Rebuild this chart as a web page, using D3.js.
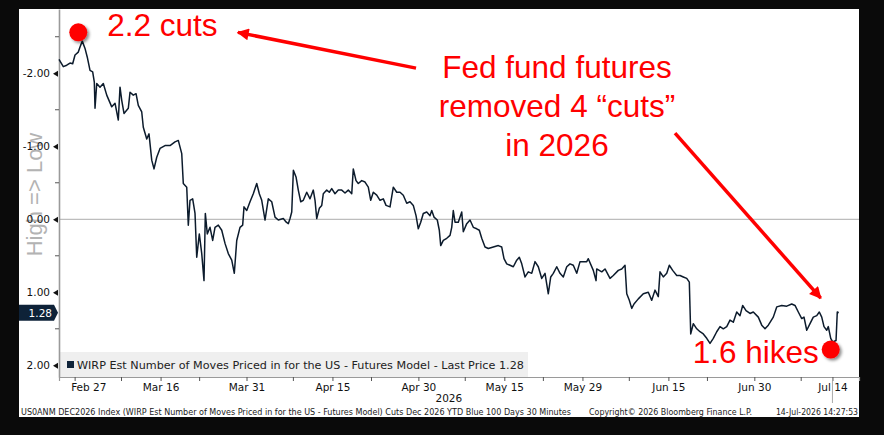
<!DOCTYPE html>
<html>
<head>
<meta charset="utf-8">
<title>WIRP Est Number of Moves</title>
<script src="https://cdn.jsdelivr.net/npm/d3@7"></script>
<style>
  body { margin: 0; background: #0a0a0a; }
  svg { display: block; }
</style>
</head>
<body>
<script>
// size of the picture
const w = 884;
const h = 435;

// trading days since Wed 25 Feb 2026 (fractional, 30 min bars)
const days = [
  0.00, 0.55, 0.99, 1.41, 1.75, 2.05, 2.47, 2.69, 2.98, 3.33,
  3.62, 3.97, 4.31, 4.52, 4.61, 4.83, 5.25, 5.67, 6.11, 6.75,
  7.17, 7.59, 7.81, 8.03, 8.32, 8.87, 9.09, 9.51, 9.86, 10.15,
  10.59, 10.79, 11.23, 11.52, 11.87, 12.16, 12.51, 12.93, 13.57, 14.21,
  14.85, 15.27, 15.71, 15.91, 16.35, 16.55, 16.77, 17.11, 17.41, 17.63,
  17.96, 18.27, 18.56, 18.73, 18.98, 19.33, 19.67, 19.97, 20.39, 20.83,
  21.25, 21.67, 22.11, 22.44, 22.75, 23.17, 23.51, 23.68, 24.03, 24.45,
  24.87, 25.31, 25.64, 25.95, 26.37, 26.79, 27.23, 27.65, 28.07, 28.71,
  29.09, 29.35, 29.57, 29.79, 30.00, 30.34, 30.63, 30.94, 31.27, 31.71,
  32.13, 32.55, 32.77, 32.99, 33.32, 33.63, 33.83, 34.27, 34.60, 34.91,
  35.33, 35.75, 36.19, 36.61, 37.03, 37.47, 37.67, 38.02, 38.31, 38.75,
  39.17, 39.59, 39.90, 40.23, 40.67, 41.09, 41.51, 41.86, 42.37, 42.79,
  43.23, 43.65, 44.07, 44.51, 44.93, 45.35, 45.70, 45.99, 46.30, 46.63,
  47.07, 47.49, 47.71, 48.00, 48.42, 48.68, 48.86, 49.19, 49.63, 50.05,
  50.27, 50.47, 50.69, 51.11, 51.55, 51.75, 52.19, 52.61, 53.03, 53.47,
  53.80, 54.11, 54.53, 54.95, 55.59, 56.23, 56.67, 56.96, 57.31, 57.73,
  58.15, 58.59, 58.92, 59.23, 59.65, 60.07, 60.51, 60.93, 61.35, 61.79,
  62.21, 62.63, 62.94, 63.27, 63.71, 64.13, 64.55, 64.99, 65.41, 65.83,
  66.27, 66.69, 67.55, 67.75, 68.39, 68.74, 68.83, 69.47, 69.89, 70.53,
  70.95, 71.59, 72.03, 72.45, 72.67, 73.00, 73.31, 73.60, 74.15, 74.79,
  75.43, 75.87, 76.29, 76.71, 76.93, 77.35, 77.79, 78.12, 78.55, 79.07,
  79.49, 79.91, 80.35, 80.68, 80.86, 81.19, 81.63, 82.05, 82.47, 82.91,
  83.33, 83.75, 84.19, 84.61, 85.03, 85.47, 85.89, 86.31, 86.75, 87.17,
  87.51, 87.94, 88.45, 88.87, 89.51, 89.95, 90.37, 90.79, 91.43, 91.87,
  92.51, 93.15, 93.79, 94.21, 94.63, 95.07, 95.36, 95.71, 96.13, 96.55,
  96.99, 97.32, 97.63, 97.92, 98.27, 98.47, 98.78, 99.03, 99.46, 99.62,
  99.80
];

// number of moves priced (negative = cuts)
const moves = [
  -2.19, -2.09, -2.11, -2.14, -2.13, -2.25, -2.29, -2.36, -2.44, -2.34,
  -2.22, -2.04, -2.02, -1.88, -1.52, -1.86, -1.81, -1.86, -1.70, -1.54,
  -1.59, -1.36, -1.81, -1.63, -1.45, -1.52, -1.74, -1.70, -1.72, -1.56,
  -1.47, -1.26, -1.10, -1.17, -0.81, -0.69, -0.85, -0.97, -1.01, -1.01,
  -1.06, -1.08, -0.90, -0.49, -0.44, 0.08, -0.26, -0.28, -0.08, 0.52,
  0.20, 0.47, 0.84, -0.08, 0.20, 0.11, 0.29, 0.11, 0.08, 0.15,
  0.33, 0.47, 0.56, 0.74, 0.29, 0.11, 0.08, -0.17, -0.12, -0.24,
  -0.35, -0.49, -0.35, -0.26, 0.01, -0.28, -0.24, -0.03, 0.01, -0.01,
  0.04, 0.06, -0.01, -0.10, -0.67, -0.58, -0.40, -0.24, -0.26, -0.37,
  -0.28, -0.40, -0.26, -0.01, -0.15, -0.19, -0.35, -0.40, -0.37, -0.42,
  -0.35, -0.40, -0.40, -0.36, -0.40, -0.35, -0.69, -0.53, -0.49, -0.53,
  -0.51, -0.44, -0.26, -0.37, -0.33, -0.26, -0.28, -0.19, -0.17, -0.44,
  -0.37, -0.37, -0.33, -0.22, -0.24, -0.19, -0.05, 0.13, 0.04, -0.08,
  -0.10, -0.05, -0.12, -0.03, 0.01, 0.15, 0.36, 0.29, 0.26, 0.22,
  0.11, -0.12, 0.04, 0.04, -0.10, 0.17, 0.06, 0.01, 0.11, 0.13,
  0.15, 0.26, 0.38, 0.40, 0.38, 0.36, 0.38, 0.54, 0.61, 0.63,
  0.65, 0.56, 0.52, 0.61, 0.79, 0.72, 0.74, 0.58, 0.65, 0.81,
  0.74, 1.02, 0.79, 0.74, 0.65, 0.74, 0.79, 0.65, 0.61, 0.63,
  0.74, 0.58, 0.58, 0.54, 0.70, 0.84, 0.68, 0.72, 0.68, 0.81,
  0.77, 0.70, 0.68, 0.63, 1.02, 1.11, 1.22, 1.16, 1.09, 1.02,
  1.00, 1.11, 0.97, 1.06, 0.72, 0.79, 0.74, 0.63, 0.70, 0.77,
  0.77, 0.79, 0.81, 0.86, 1.57, 1.43, 1.50, 1.54, 1.57, 1.63,
  1.70, 1.63, 1.54, 1.47, 1.50, 1.47, 1.38, 1.41, 1.27, 1.32,
  1.18, 1.25, 1.29, 1.27, 1.34, 1.45, 1.50, 1.45, 1.34, 1.20,
  1.18, 1.19, 1.16, 1.18, 1.27, 1.36, 1.34, 1.52, 1.43, 1.34,
  1.32, 1.27, 1.34, 1.47, 1.52, 1.47, 1.63, 1.68, 1.66, 1.27,
  1.28
];

// axis ticks
const xTickDates = ["2026-02-27", "2026-03-16", "2026-03-31", "2026-04-15", "2026-04-30",
  "2026-05-15", "2026-05-29", "2026-06-15", "2026-06-30", "2026-07-14"];
const xTickLabels = ["Feb 27", "Mar 16", "Mar 31", "Apr 15", "Apr 30",
  "May 15", "May 29", "Jun 15", "Jun 30", "Jul 14"];
const xMinorDates = ["2026-03-09", "2026-03-23", "2026-04-08", "2026-04-22", "2026-05-08",
  "2026-05-22", "2026-06-08", "2026-06-22", "2026-07-08"];
const yMajor = [-2, -1, 0, 1, 2];
const yMinor = [-2.5, -1.5, -0.5, 0.5, 1.5];
const lastPrice = 1.28;

// annotations: [day, value]
const startDot = [2.47, -2.56];
const endDot = [98.78, 1.785];
const arrowLeft = [[45.7, -2.07], [22.9, -2.56]];
const arrowRight = [[78.85, -1.18], [97.5, 1.08]];

const legendText = "WIRP Est Number of Moves Priced in for the US - Futures Model - Last Price 1.28";
const footerLeft = "US0ANM DEC2026 Index (WIRP Est Number of Moves Priced in for the US - Futures Model) Cuts Dec 2026 YTD Blue 100 Days 30 Minutes";
const footerMid = "Copyright\u00a9 2026 Bloomberg Finance L.P.";
const footerRight = "14-Jul-2026 14:27:53";

// trading day count from the first bar
const startDay = new Date(2026, 1, 25);
const parse = d3.timeParse("%Y-%m-%d");
function bizIndex(s) {
  return d3.timeDay.range(startDay, parse(s))
    .filter(d => d.getDay() !== 0 && d.getDay() !== 6).length;
}

const plot = { left: 59, right: 859, top: 9, bottom: 377 };

const x = d3.scaleLinear().domain([0, 102.4]).range([plot.left, plot.right]);
const y = d3.scaleLinear().domain([-2.88, 2.16]).range([plot.top, plot.bottom]);

const svg = d3.select("body").append("svg")
  .attr("width", w)
  .attr("height", h)
  .style("font-family", "'DejaVu Sans', Verdana, sans-serif");

const defs = svg.append("defs");
defs.append("filter").attr("id", "shadow")
  .attr("x", "-50%").attr("y", "-50%").attr("width", "200%").attr("height", "200%")
  .append("feDropShadow")
  .attr("dx", 2).attr("dy", 2).attr("stdDeviation", 1.6)
  .attr("flood-color", "#000").attr("flood-opacity", 0.45);
defs.append("marker").attr("id", "head")
  .attr("viewBox", "0 0 10 10")
  .attr("refX", 9).attr("refY", 5)
  .attr("markerWidth", 17).attr("markerHeight", 12)
  .attr("markerUnits", "userSpaceOnUse")
  .attr("orient", "auto")
  .append("path").attr("d", "M0,0 L10,5 L0,10 Z").attr("fill", "#f00");

// white panel
svg.append("rect")
  .attr("x", 19).attr("y", 9)
  .attr("width", 840).attr("height", 408)
  .attr("fill", "#fff");

// y title
svg.append("text")
  .attr("transform", `translate(42,${(plot.top + plot.bottom) / 2 + 1.5}) rotate(-90)`)
  .attr("text-anchor", "middle")
  .attr("font-family", "'Liberation Sans', Arial, sans-serif")
  .attr("font-size", 22)
  .attr("fill", "#b3b3b3")
  .text("High => Low");

// zero line
svg.append("line")
  .attr("x1", plot.left).attr("x2", plot.right)
  .attr("y1", y(0)).attr("y2", y(0))
  .attr("stroke", "#bdbdbd").attr("stroke-width", 1.2);

// legend box
svg.append("rect")
  .attr("x", 60).attr("y", 352)
  .attr("width", 468).attr("height", plot.bottom - 352)
  .attr("fill", "#efefef");
svg.append("rect")
  .attr("x", 67).attr("y", 361)
  .attr("width", 7).attr("height", 7)
  .attr("fill", "#10243a");
svg.append("text")
  .attr("x", 77).attr("y", 368.5)
  .attr("font-size", 11.2)
  .attr("fill", "#222")
  .text(legendText);

// y axis
const yAxis = d3.axisLeft(y)
  .tickValues(yMajor)
  .tickSize(0)
  .tickPadding(9)
  .tickFormat(d => d.toFixed(2));
const gy = svg.append("g")
  .attr("transform", `translate(${plot.left},0)`)
  .call(yAxis);
gy.select(".domain").attr("stroke", "#9a9a9a").attr("stroke-width", 1.6);
gy.selectAll(".tick text")
  .attr("font-family", "'DejaVu Sans', Verdana, sans-serif")
  .attr("font-size", 10.5)
  .attr("fill", "#111");
gy.selectAll(".tick").append("path")
  .attr("d", "M-6,0 L-1,-3 L-1,3 Z")
  .attr("fill", "#111");
gy.selectAll(".minor")
  .data(yMinor)
  .enter()
  .append("line")
  .attr("x1", -4).attr("x2", 0)
  .attr("y1", d => y(d)).attr("y2", d => y(d))
  .attr("stroke", "#555");

// last price badge
const yl = y(lastPrice);
svg.append("path")
  .attr("d", `M19,${yl - 8} L54,${yl - 8} L58,${yl} L54,${yl + 8} L19,${yl + 8} Z`)
  .attr("fill", "#0e2238");
svg.append("text")
  .attr("x", 52).attr("y", yl + 4)
  .attr("text-anchor", "end")
  .attr("font-size", 10.5)
  .attr("fill", "#fff")
  .text(lastPrice.toFixed(2));

// x axis
const xAxis = d3.axisBottom(x)
  .tickValues(xTickDates.map(bizIndex))
  .tickSize(4)
  .tickPadding(3)
  .tickFormat((d, i) => xTickLabels[i]);
const gx = svg.append("g")
  .attr("transform", `translate(0,${plot.bottom})`)
  .call(xAxis);
gx.select(".domain").attr("stroke", "#9a9a9a").attr("stroke-width", 1.2);
gx.selectAll(".tick line").attr("stroke", "#555");
gx.selectAll(".tick text")
  .attr("font-family", "'DejaVu Sans', Verdana, sans-serif")
  .attr("font-size", 10.5)
  .attr("fill", "#111");
gx.select(".tick text").attr("text-anchor", "start").attr("dx", -4);
gx.selectAll(".minor")
  .data(xMinorDates.map(bizIndex))
  .enter()
  .append("line")
  .attr("x1", d => x(d)).attr("x2", d => x(d))
  .attr("y1", 0).attr("y2", 4)
  .attr("stroke", "#555");

// year under the axis
svg.append("text")
  .attr("x", x((days[0] + days[days.length - 1]) / 2))
  .attr("y", 401.5)
  .attr("text-anchor", "middle")
  .attr("font-size", 10.5)
  .attr("fill", "#111")
  .text("2026");

// current bar marker
svg.append("line")
  .attr("x1", x(bizIndex("2026-07-14"))).attr("x2", x(bizIndex("2026-07-14")))
  .attr("y1", plot.bottom + 4).attr("y2", 403)
  .attr("stroke", "#aaa");

// the series
const series = days.map((d, i) => [d, moves[i]]);
svg.append("path")
  .datum(series)
  .attr("fill", "none")
  .attr("stroke", "#0c1b2c")
  .attr("stroke-width", 1.5)
  .attr("stroke-linejoin", "round")
  .attr("d", d3.line().x(d => x(d[0])).y(d => y(d[1])));

// footer
const foot = svg.append("g")
  .attr("font-family", "'DejaVu Sans Condensed', 'DejaVu Sans', sans-serif")
  .attr("font-size", 8.6)
  .attr("fill", "#222");
foot.append("text").attr("x", 21).attr("y", 414.5)
  .attr("textLength", 550).attr("lengthAdjust", "spacingAndGlyphs")
  .text(footerLeft);
foot.append("text").attr("x", 589).attr("y", 414.5)
  .attr("textLength", 163).attr("lengthAdjust", "spacingAndGlyphs")
  .text(footerMid);
foot.append("text").attr("x", 858).attr("y", 414.5)
  .attr("text-anchor", "end")
  .text(footerRight);

// red annotations
const red = "#ff0000";
const anno = svg.append("g")
  .attr("font-family", "'Liberation Sans', Arial, Helvetica, sans-serif")
  .attr("font-size", 31.5)
  .attr("fill", red);

[arrowLeft, arrowRight].forEach(a => {
  svg.append("line")
    .attr("x1", x(a[0][0])).attr("y1", y(a[0][1]))
    .attr("x2", x(a[1][0])).attr("y2", y(a[1][1]))
    .attr("stroke", red)
    .attr("stroke-width", 3.5)
    .attr("marker-end", "url(#head)");
});

[startDot, endDot].forEach(p => {
  svg.append("circle")
    .attr("cx", x(p[0])).attr("cy", y(p[1]))
    .attr("r", 9)
    .attr("fill", red)
    .attr("filter", "url(#shadow)");
});

anno.append("text")
  .attr("x", x(startDot[0]) + 29).attr("y", y(startDot[1]) + 4)
  .text("2.2 cuts");
anno.append("text")
  .attr("x", x(endDot[0]) - 12).attr("y", y(endDot[1]) + 13)
  .attr("text-anchor", "end")
  .text("1.6 hikes");

const fedLines = ["Fed fund futures", "removed 4 \u201ccuts\u201d", "in 2026"];
anno.append("text")
  .attr("text-anchor", "middle")
  .selectAll("tspan")
  .data(fedLines)
  .enter()
  .append("tspan")
  .attr("x", 557)
  .attr("y", (d, i) => 78 + i * 39)
  .text(d => d);
</script>
</body>
</html>
